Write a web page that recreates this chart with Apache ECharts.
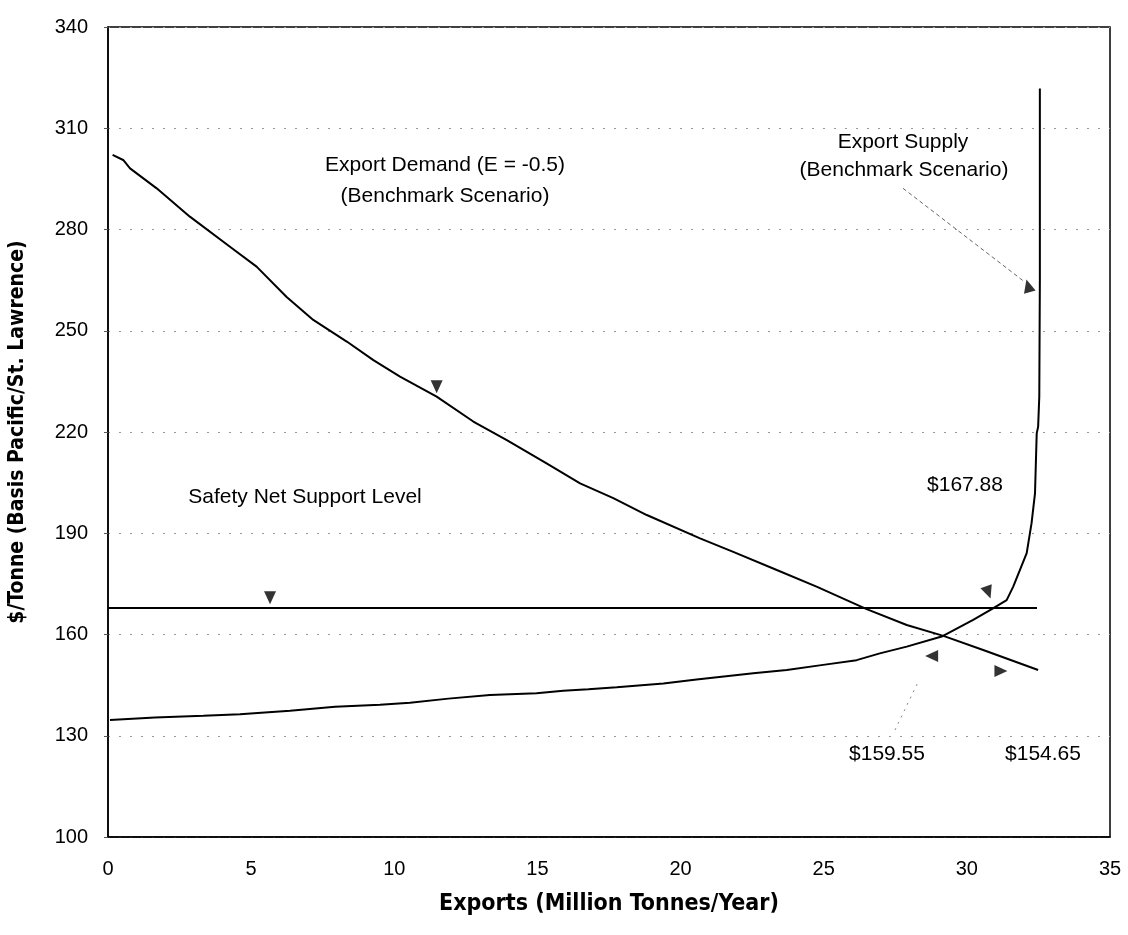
<!DOCTYPE html>
<html>
<head>
<meta charset="utf-8">
<script src="https://cdn.jsdelivr.net/npm/echarts@6/dist/echarts.min.js"></script>
<style>
html,body{margin:0;padding:0;background:#fff;}
#chart{width:1128px;height:935px;}
</style>
</head>
<body>
<div id="chart"></div>
<script>
// ---- Data ----
var demandX = [0.16, 0.53, 0.77, 1.70, 2.86, 4.26, 5.19, 6.24, 7.17, 8.34, 9.27, 10.20, 11.48, 12.76, 13.93, 15.32, 16.49, 17.65, 18.82, 20.68, 21.84, 23.36, 24.75, 26.50, 27.90, 29.18, 30.57, 32.49];
var demandY = [302.1, 300.6, 298.1, 292.2, 283.8, 274.9, 269.0, 260.0, 253.2, 246.8, 241.3, 236.4, 230.5, 223.1, 217.6, 210.7, 204.8, 200.4, 195.4, 188.5, 184.5, 179.1, 174.2, 167.5, 162.8, 159.6, 155.4, 149.5];

var supplyX = [0.07, 1.64, 3.33, 4.61, 5.48, 6.36, 7.93, 9.50, 10.55, 11.89, 13.34, 14.97, 15.90, 16.78, 17.77, 19.40, 20.56, 22.54, 23.71, 24.98, 26.15, 26.96, 27.90, 29.12, 30.22, 30.87, 31.39, 31.62, 32.09, 32.26, 32.38, 32.44, 32.49, 32.53, 32.55, 32.55];
var supplyY = [134.7, 135.4, 135.9, 136.4, 136.9, 137.4, 138.6, 139.2, 139.8, 141.0, 142.1, 142.6, 143.3, 143.8, 144.4, 145.5, 146.7, 148.5, 149.5, 151.0, 152.4, 154.4, 156.4, 159.4, 164.3, 167.5, 170.2, 174.2, 184.1, 193.0, 201.8, 219.6, 221.6, 230.5, 265.0, 321.8];

var safetyNetX = [0, 32.45];
var safetyNetLevel = 167.88;

// pointer triangles: x, y, rotation (deg)
var arrowX = [5.66, 11.48, 32.14, 30.75, 28.77, 31.19];
var arrowY = [170.9, 233.4, 263.3, 172.5, 153.6, 149.2];
var arrowRot = [180, 180, 15, 200, 90, -90];

// leader lines
var supplyLeaderX = [27.77, 32.03];
var supplyLeaderY = [292.2, 264.4];
var eqLeaderX = [27.49, 28.30];
var eqLeaderY = [131.7, 146.0];

var xTicks = [0, 5, 10, 15, 20, 25, 30, 35];
var yTicks = [100, 130, 160, 190, 220, 250, 280, 310, 340];

// annotation texts
var annoTexts = ['Export Demand (E = -0.5)', '(Benchmark Scenario)', 'Export Supply', '(Benchmark Scenario)', 'Safety Net Support Level', '$167.88', '$159.55', '$154.65'];

function zip(a, b) { return a.map(function (v, i) { return [v, b[i]]; }); }

var chart = echarts.init(document.getElementById('chart'), null, {renderer: 'canvas'});
var baseFont = "'Liberation Sans', Arial, sans-serif";
var titleFont = "'Liberation Sans Narrow', 'DejaVu Sans Condensed', 'Liberation Sans', sans-serif";

var annoPos = [[445, 165], [445, 196], [903, 142], [904, 170], [305, 497], [965, 485], [887, 754], [1043, 754]];

var option = {
  backgroundColor: '#fff',
  animation: false,
  grid: {left: 108, right: 18, top: 27, bottom: 98, outerBoundsMode: 'none', containLabel: false,
         show: true, borderColor: '#000', borderWidth: 1.5, backgroundColor: 'transparent'},
  xAxis: {
    type: 'value', min: xTicks[0], max: xTicks[xTicks.length - 1], interval: 5,
    name: 'Exports (Million Tonnes/Year)', nameLocation: 'middle', nameGap: 56,
    nameTextStyle: {fontFamily: titleFont, fontWeight: 'bold', fontSize: 23, color: '#000'},
    axisLine: {show: true, lineStyle: {color: '#000', width: 1.5}},
    axisTick: {show: false},
    axisLabel: {fontFamily: baseFont, fontSize: 20, color: '#000', margin: 22},
    splitLine: {show: false}
  },
  yAxis: {
    type: 'value', min: yTicks[0], max: yTicks[yTicks.length - 1], interval: 30,
    name: '$/Tonne (Basis Pacific/St. Lawrence)', nameLocation: 'middle', nameGap: 80,
    nameTextStyle: {fontFamily: titleFont, fontWeight: 'bold', fontSize: 21, color: '#000'},
    axisLine: {show: true, lineStyle: {color: '#000', width: 1.5}},
    axisTick: {show: true, length: 4, lineStyle: {color: '#555'}},
    axisLabel: {fontFamily: baseFont, fontSize: 20, color: '#000', margin: 20},
    splitLine: {show: true, lineStyle: {color: '#999', width: 1, type: [2, 9]}}
  },
  series: [
    {name: 'Export Demand', type: 'line', data: zip(demandX, demandY), symbol: 'none', smooth: false,
     lineStyle: {color: '#000', width: 2}, z: 3},
    {name: 'Export Supply', type: 'line', data: zip(supplyX, supplyY), symbol: 'none', smooth: false,
     lineStyle: {color: '#000', width: 2}, z: 3},
    {name: 'Safety Net', type: 'line', data: safetyNetX.map(function (x) { return [x, safetyNetLevel]; }), symbol: 'none',
     lineStyle: {color: '#000', width: 2}, z: 3},
    {name: 'supplyLeader', type: 'line', data: zip(supplyLeaderX, supplyLeaderY), symbol: 'none',
     lineStyle: {color: '#666', width: 1, type: [4, 3]}, z: 2},
    {name: 'eqLeader', type: 'line', data: zip(eqLeaderX, eqLeaderY), symbol: 'none',
     lineStyle: {color: '#888', width: 1, type: [2, 5]}, z: 2},
    {name: 'pointers', type: 'scatter', symbol: 'triangle', symbolSize: [12, 13],
     itemStyle: {color: '#000'}, z: 4,
     data: arrowX.map(function (x, i) { return {value: [x, arrowY[i]], symbolRotate: arrowRot[i]}; })}
  ],
  graphic: annoTexts.map(function (t, i) {
    return {type: 'text', x: annoPos[i][0], y: annoPos[i][1], z: 10,
      style: {text: t, fontFamily: baseFont, fontSize: 21, fill: '#000', align: 'center', verticalAlign: 'middle'}};
  })
};
chart.setOption(option);
</script>
</body>
</html>
